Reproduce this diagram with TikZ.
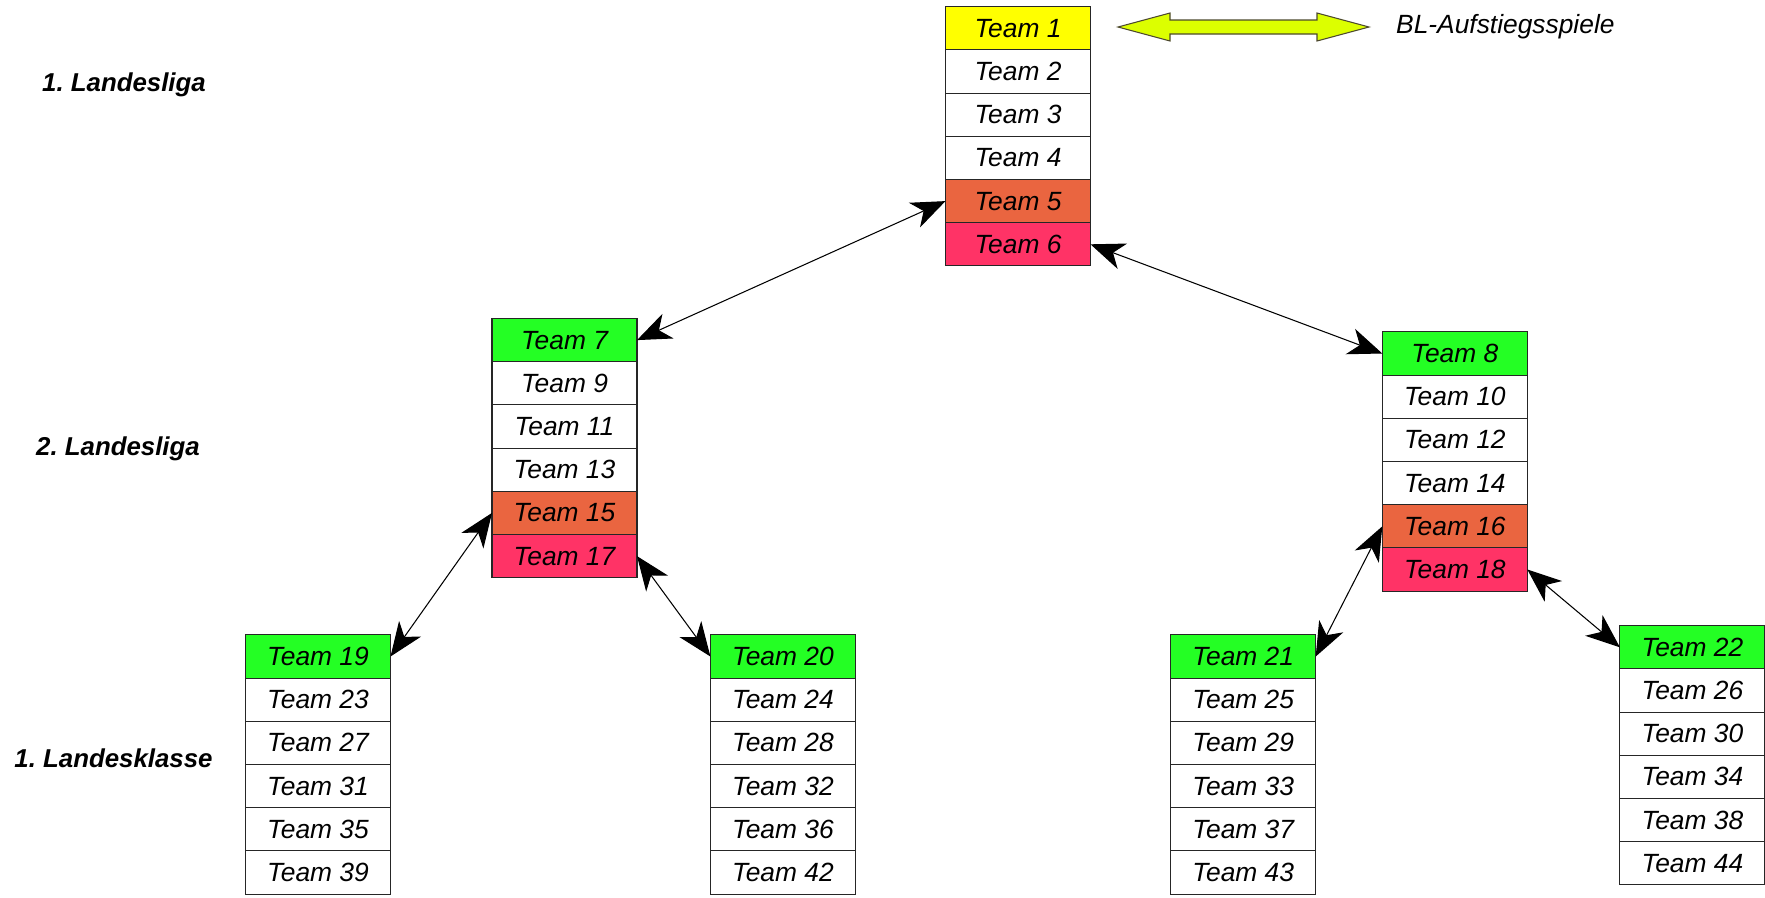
\documentclass[tikz,border=0pt]{standalone}
\usepackage{fontspec}
\setsansfont{Liberation Sans}
\usetikzlibrary{arrows.meta, positioning, calc}

\definecolor{gelb}{RGB}{255,255,0}
\definecolor{gruen}{RGB}{36,255,36}
\definecolor{orange_rel}{RGB}{234,101,64}
\definecolor{rot_ab}{RGB}{255,51,102}
\definecolor{bl_gruen}{RGB}{220,255,0}

\begin{document}
\begin{tikzpicture}[
        every node/.style={font=\sffamily\itshape\fontsize{15}{17}\selectfont}, % Todo el texto: sans-serif cursiva.
        tape/.style={draw=black!85, line width=0.6pt, rectangle, minimum width=2.9cm, minimum height=0.864cm, inner sep=0pt, outer sep=0pt},
        aufsteiger/.style={tape, fill=gruen},
        relegation/.style={tape, fill=orange_rel},
        absteiger/.style={tape, fill=rot_ab},
        liga/.style={font=\sffamily\bfseries\itshape\fontsize{14.7}{17}\selectfont},
        arrow_style/.style={>={Stealth[length=0.68cm, width=0.54cm, inset=0.2cm]}, <->, line width=0.6pt, draw=black}
    ]
        \useasboundingbox (0,0) rectangle (35.3,-17.94);

        % --- Nombres de las ligas ---
        \node[liga] (liga1) at (2.48,-1.69) {1.\ Landesliga};
        \node[liga] (liga2) at (2.36,-8.98) {2.\ Landesliga};
        \node[liga] (klasse1) at (2.27,-15.17) {1.\ Landesklasse};

        % --- 1. Landesliga ---
        \node[tape, fill=gelb] (t1) at (20.36,-0.566) {Team 1};
        \node[tape, below=0cm of t1] (t2) {Team 2};
        \node[tape, below=0cm of t2] (t3) {Team 3};
        \node[tape, below=0cm of t3] (t4) {Team 4};
        \node[relegation, below=0cm of t4] (t5) {Team 5};
        \node[absteiger, below=0cm of t5] (t6) {Team 6};

        % --- BL-Aufstiegsspiele (flecha doble) ---
        \coordinate (bl_left) at (22.36,-0.54);
        \draw[fill=bl_gruen, draw=black!60!olive, line width=0.6pt] (bl_left) -- ++(1.04,0.28) -- ++(0,-0.14)
            -- ++(2.94,0) -- ++(0,0.14) -- ++(1.04,-0.28) coordinate (bl_right) -- ++(-1.04,-0.28)
            -- ++(0,0.14) -- ++(-2.94,0) -- ++(0,-0.14) -- cycle;
        \node[right=0.42cm of bl_right, anchor=west] (bl_text) {BL-Aufstiegsspiele};

        % --- 2. Landesliga, izquierda ---
        \node[aufsteiger] (t7) at (11.29,-6.802) {Team 7};
        \node[tape, below=0cm of t7] (t9) {Team 9};
        \node[tape, below=0cm of t9] (t11) {Team 11};
        \node[tape, below=0cm of t11] (t13) {Team 13};
        \node[relegation, below=0cm of t13] (t15) {Team 15};
        \node[absteiger, below=0cm of t15] (t17) {Team 17};

        % --- 2. Landesliga, derecha ---
        \node[aufsteiger] (t8) at (29.096,-7.07) {Team 8};
        \node[tape, below=0cm of t8] (t10) {Team 10};
        \node[tape, below=0cm of t10] (t12) {Team 12};
        \node[tape, below=0cm of t12] (t14) {Team 14};
        \node[relegation, below=0cm of t14] (t16) {Team 16};
        \node[absteiger, below=0cm of t16] (t18) {Team 18};

        % --- 1. Landesklasse ---
        \node[aufsteiger] (t19) at (6.36,-13.13) {Team 19};
        \node[tape, below=0cm of t19] (t23) {Team 23};
        \node[tape, below=0cm of t23] (t27) {Team 27};
        \node[tape, below=0cm of t27] (t31) {Team 31};
        \node[tape, below=0cm of t31] (t35) {Team 35};
        \node[tape, below=0cm of t35] (t39) {Team 39};

        \node[aufsteiger] (t20) at (15.658,-13.13) {Team 20};
        \node[tape, below=0cm of t20] (t24) {Team 24};
        \node[tape, below=0cm of t24] (t28) {Team 28};
        \node[tape, below=0cm of t28] (t32) {Team 32};
        \node[tape, below=0cm of t32] (t36) {Team 36};
        \node[tape, below=0cm of t36] (t42) {Team 42};

        \node[aufsteiger] (t21) at (24.864,-13.13) {Team 21};
        \node[tape, below=0cm of t21] (t25) {Team 25};
        \node[tape, below=0cm of t25] (t29) {Team 29};
        \node[tape, below=0cm of t29] (t33) {Team 33};
        \node[tape, below=0cm of t33] (t37) {Team 37};
        \node[tape, below=0cm of t37] (t43) {Team 43};

        \node[aufsteiger] (t22) at (33.848,-12.946) {Team 22};
        \node[tape, below=0cm of t22] (t26) {Team 26};
        \node[tape, below=0cm of t26] (t30) {Team 30};
        \node[tape, below=0cm of t30] (t34) {Team 34};
        \node[tape, below=0cm of t34] (t38) {Team 38};
        \node[tape, below=0cm of t38] (t44) {Team 44};

        % --- Flechas de ascenso / descenso ---
        \draw[arrow_style] (t5.west) -- (t7.east);
        \draw[arrow_style] (t6.east) -- (t8.west);
        \draw[arrow_style] (t15.west) -- (t19.east);
        \draw[arrow_style] (t17.east) -- (t20.west);
        \draw[arrow_style] (t16.west) -- (t21.east);
        \draw[arrow_style] (t18.east) -- (t22.west);

    \end{tikzpicture}
\end{document}
